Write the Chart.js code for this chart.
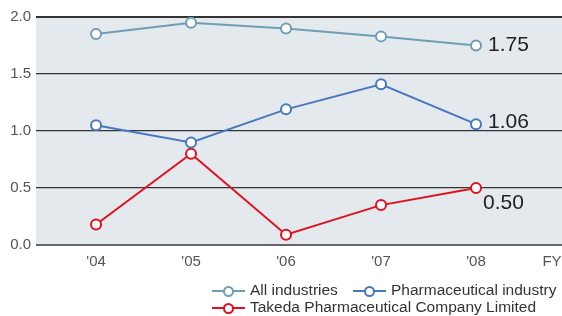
<!DOCTYPE html>
<html>
<head>
<meta charset="utf-8">
<script src="https://cdn.jsdelivr.net/npm/chart.js@4"></script>
<style>
  body { margin: 0; background: #fff; overflow: hidden; }
  #wrap { position: relative; width: 562px; height: 316px; overflow: hidden; }
  #my-line-chart { position: absolute; left: 0; top: 0; }
  .legend { position: absolute; font: 15.5px "Liberation Sans", Arial, sans-serif; color: #333; white-space: nowrap; }
  .legend span.mk { display: inline-block; position: relative; width: 33px; height: 10px; margin-right: 5px; vertical-align: -1px; }
  .legend span.mk i { position: absolute; left: 0; right: 0; top: 4px; height: 2px; }
  .legend span.mk b { position: absolute; left: 11px; top: 0; width: 7px; height: 7px; border-radius: 50%; background: #fff; border: 2px solid; }
</style>
</head>
<body>
<div id="wrap">
  <canvas id="my-line-chart" width="569" height="316"></canvas>
  <div class="legend" style="left:212px; top:281px;"><span class="mk"><i style="background:#6f9db5"></i><b style="border-color:#6f9db5"></b></span>All industries</div>
  <div class="legend" style="left:353px; top:281px;"><span class="mk"><i style="background:#4a78c0"></i><b style="border-color:#4a78c0"></b></span>Pharmaceutical industry</div>
  <div class="legend" style="left:212px; top:298px;"><span class="mk"><i style="background:#e0101f"></i><b style="border-color:#e0101f"></b></span>Takeda Pharmaceutical Company Limited</div>
</div>
<script>
const years = [4, 5, 6, 7, 8]
const yearLabels = ["'04", "'05", "'06", "'07", "'08"]
const allIndustries = [1.85, 1.95, 1.90, 1.83, 1.75]
const pharmaIndustry = [1.05, 0.90, 1.19, 1.41, 1.06]
const takeda = [0.18, 0.80, 0.09, 0.35, 0.50]
const endLabels = ['1.75', '1.06', '0.50']
const yTicks = [0, 0.5, 1.0, 1.5, 2.0]

const font = "'Liberation Sans', Arial, sans-serif"

function series(label, values, color) {
    return {
        label: label,
        data: values.map((v, i) => ({ x: years[i], y: v })),
        borderColor: color,
        backgroundColor: '#fff',
        borderWidth: 2,
        pointRadius: 5,
        pointBorderWidth: 2,
        pointBackgroundColor: '#fff',
        pointBorderColor: color,
        tension: 0
    }
}

// grey plot background
const plotBg = {
    id: 'plotBg',
    beforeDraw(chart) {
        const { ctx, chartArea: a } = chart
        ctx.save()
        ctx.fillStyle = '#e4e9ee'
        ctx.fillRect(a.left, a.top, a.right - a.left + 6, a.bottom - a.top)
        ctx.restore()
    }
}

// value labels at the last point
const endText = {
    id: 'endText',
    afterDatasetsDraw(chart) {
        const { ctx } = chart
        const offs = [[12, 0], [12, -2], [7, 15]]
        ctx.save()
        ctx.font = '21px ' + font
        ctx.fillStyle = '#222'
        ctx.textBaseline = 'middle'
        chart.data.datasets.forEach((ds, i) => {
            const pt = chart.getDatasetMeta(i).data[ds.data.length - 1]
            ctx.fillText(endLabels[i], pt.x + offs[i][0], pt.y + offs[i][1])
        })
        ctx.restore()
    }
}

const config = {
    type: 'line',
    data: {
        datasets: [
            series('All industries', allIndustries, '#6f9db5'),
            series('Pharmaceutical industry', pharmaIndustry, '#4a78c0'),
            series('Takeda Pharmaceutical Company Limited', takeda, '#e0101f')
        ]
    },
    options: {
        responsive: false,
        animation: false,
        layout: { padding: { top: 17, right: 0, left: 0, bottom: 0 } },
        plugins: { legend: { display: false }, tooltip: { enabled: false } },
        scales: {
            x: {
                type: 'linear',
                min: 3.368,
                max: 8.905,
                afterBuildTicks(scale) {
                    scale.ticks = years.map(v => ({ value: v })).concat([{ value: 8.8 }])
                },
                afterFit(scale) {
                    scale.height = 71
                },
                ticks: {
                    callback: (v) => v === 8.8 ? 'FY' : yearLabels[years.indexOf(v)],
                    font: { family: font, size: 15 },
                    color: '#555',
                    padding: 0,
                    maxRotation: 0,
                    autoSkip: false
                },
                grid: { display: false },
                border: { display: false }
            },
            y: {
                min: 0,
                max: 2,
                afterBuildTicks(scale) {
                    scale.ticks = yTicks.map(v => ({ value: v }))
                },
                afterFit(scale) { scale.width = 36 },
                ticks: {
                    callback: (v) => v.toFixed(1),
                    font: { family: font, size: 15 },
                    color: '#555',
                    padding: 5
                },
                grid: {
                    drawTicks: false,
                    color: (c) => c.tick.value === 0 ? '#666' : '#333',
                    lineWidth: (c) => c.tick.value === 0 ? 2 : (c.tick.value === 2 ? 2 : 1.2)
                },
                border: { display: false }
            }
        }
    },
    plugins: [plotBg, endText]
}

new Chart(document.querySelector('#my-line-chart'), config)
</script>
</body>
</html>
